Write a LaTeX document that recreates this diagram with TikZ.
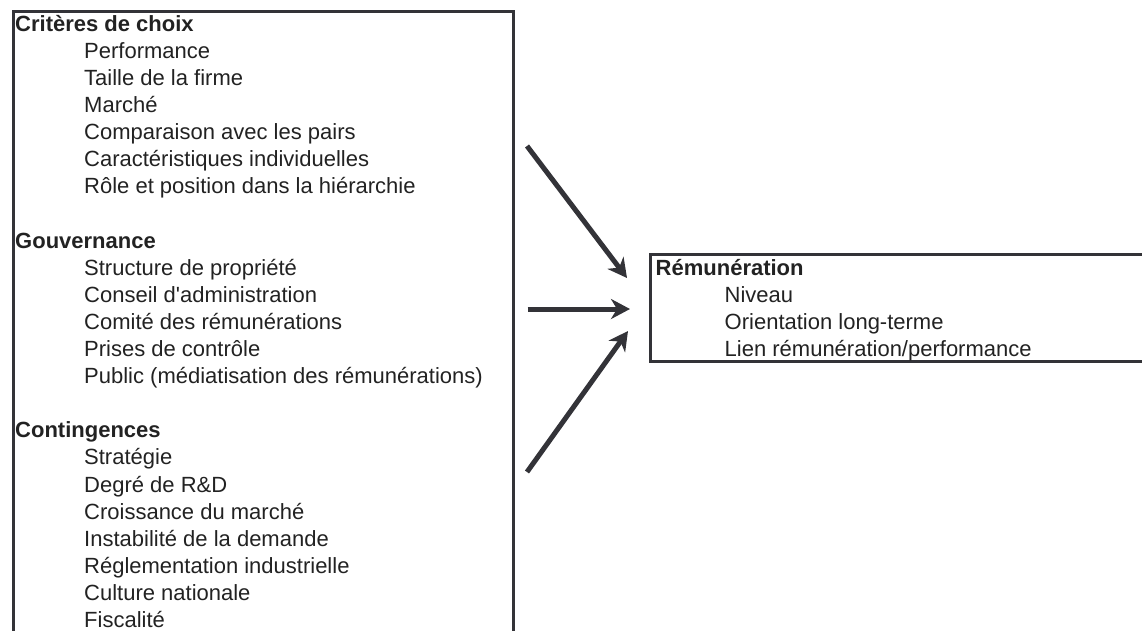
\documentclass[tikz,border=0pt]{standalone}
\usepackage{fontspec}
\setmainfont{Liberation Sans}
\usepackage{tikz}
\usetikzlibrary{arrows.meta,positioning}
\definecolor{framegray}{HTML}{333338}
\definecolor{textgray}{HTML}{222222}
\newcommand{\lvl}[1]{\hspace*{69pt}#1}

\begin{document}
\begin{tikzpicture}[
  x=1pt, y=-1pt,
  panel/.style={
    draw=framegray,
    line width=3pt,
    anchor=north west,
    inner sep=0pt,
  },
  listtext/.style={
    font=\fontsize{22}{27.1}\selectfont,
    text=textgray,
    align=left,
    anchor=base west,
    inner sep=0pt,
  },
  bigarr/.style={
    -{Stealth[length=19pt, width=20pt, inset=6pt]},
    line width=5pt,
    draw=framegray,
  },
]

\useasboundingbox (0,0) rectangle (1142,630);
\clip (0,0) rectangle (1142,630);

% --- left panel: determinants ---
\node[panel, minimum width=500pt, minimum height=700pt] (detbox) at (11.5,10) {};

\node[listtext] (detlist) at (15,627.5) {%
  \textbf{Critères de choix}\\
  \lvl{Performance}\\
  \lvl{Taille de la firme}\\
  \lvl{Marché}\\
  \lvl{Comparaison avec les pairs}\\
  \lvl{Caractéristiques individuelles}\\
  \lvl{Rôle et position dans la hiérarchie}\\[27.1pt]
  \textbf{Gouvernance}\\
  \lvl{Structure de propriété}\\
  \lvl{Conseil d\textquotesingle administration}\\
  \lvl{Comité des rémunérations}\\
  \lvl{Prises de contrôle}\\
  \lvl{Public (médiatisation des rémunérations)}\\[27.1pt]
  \textbf{Contingences}\\
  \lvl{Stratégie}\\
  \lvl{Degré de R\&D}\\
  \lvl{Croissance du marché}\\
  \lvl{Instabilité de la demande}\\
  \lvl{Réglementation industrielle}\\
  \lvl{Culture nationale}\\
  \lvl{Fiscalité}};

% --- right panel: pay ---
\node[panel, minimum width=600pt, minimum height=106.7pt] (paybox) at (648.5,253.3) {};

\node[listtext] (paylist) at (655.5,356.3) {%
  \textbf{Rémunération}\\
  \lvl{Niveau}\\
  \lvl{Orientation long-terme}\\
  \lvl{Lien rémunération/performance}};

% --- arrow ends ---
\coordinate (fromcrit) at (527,146);
\coordinate (fromgov) at (527.5,309);
\coordinate (fromcont) at (527,472);
\coordinate (tocrit) at (627,278);
\coordinate (togov) at (630,309);
\coordinate (tocont) at (628,331);

\draw[bigarr] (fromcrit) -- (tocrit);
\draw[bigarr] (fromgov) -- (togov);
\draw[bigarr] (fromcont) -- (tocont);

\end{tikzpicture}
\end{document}
